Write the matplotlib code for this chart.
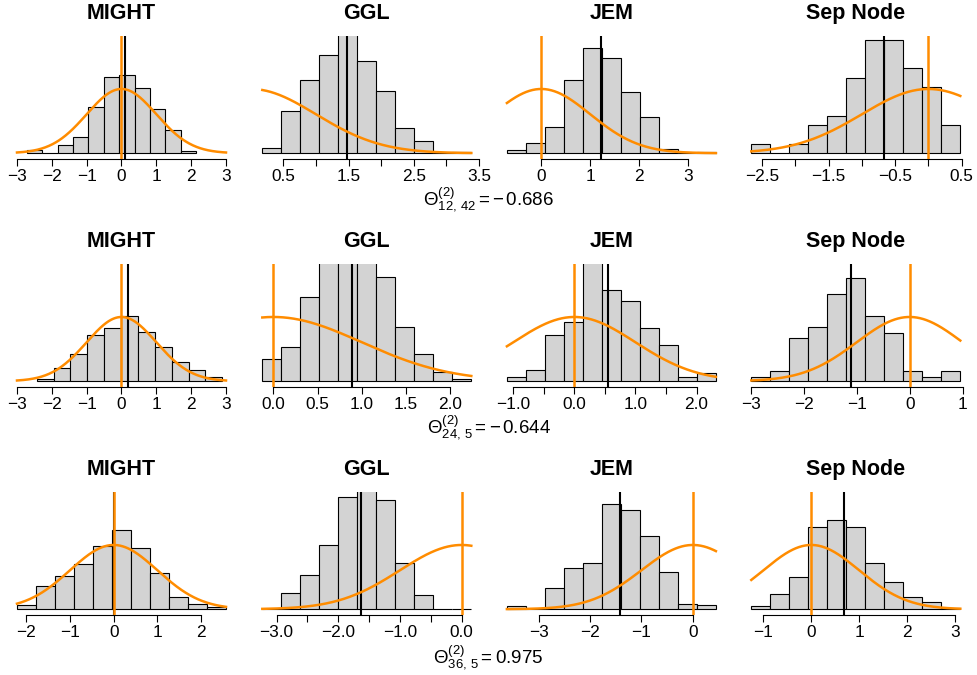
import numpy as np
import matplotlib
matplotlib.use("Agg")
import matplotlib.pyplot as plt

plt.rcParams['font.family'] = ['Liberation Sans', 'DejaVu Sans']
plt.rcParams['mathtext.fontset'] = 'custom'
plt.rcParams['mathtext.rm'] = 'Liberation Sans'
plt.rcParams['mathtext.it'] = 'Liberation Sans:italic'
plt.rcParams['mathtext.bf'] = 'Liberation Sans:bold'
plt.rcParams['axes.unicode_minus'] = True

methods = ["MIGHT", "GGL", "JEM", "Sep Node"]
theta_labels = [r"$\Theta^{(2)}_{12,\,42} = -\,0.686$",
                r"$\Theta^{(2)}_{24,\,5} = -\,0.644$",
                r"$\Theta^{(2)}_{36,\,5} = 0.975$"]

# ---- histogram bin edges (per row, per method) ----
edges_r1 = [[-2.713, -2.272, -1.831, -1.390, -0.949, -0.508, -0.067, 0.374, 0.815, 1.256, 1.697, 2.138],
            [0.179, 0.470, 0.761, 1.052, 1.343, 1.634, 1.925, 2.216, 2.507, 2.798, 3.089, 3.380],
            [-0.702, -0.314, 0.074, 0.462, 0.850, 1.238, 1.625, 2.013, 2.401, 2.789, 3.177, 3.565],
            [-2.663, -2.377, -2.092, -1.806, -1.520, -1.234, -0.949, -0.663, -0.377, -0.091, 0.194, 0.480]]
edges_r2 = [[-2.435, -1.951, -1.466, -0.982, -0.497, -0.013, 0.472, 0.956, 1.441, 1.925, 2.410, 2.895],
            [-0.125, 0.090, 0.305, 0.520, 0.735, 0.950, 1.165, 1.380, 1.595, 1.810, 2.025, 2.240],
            [-1.104, -0.793, -0.482, -0.171, 0.140, 0.451, 0.762, 1.073, 1.384, 1.695, 2.006, 2.317],
            [-2.992, -2.633, -2.274, -1.915, -1.556, -1.197, -0.838, -0.479, -0.120, 0.239, 0.598, 0.957]]
edges_r3 = [[-2.214, -1.779, -1.344, -0.908, -0.473, -0.038, 0.397, 0.832, 1.268, 1.703, 2.138, 2.573],
            [-3.232, -2.924, -2.616, -2.308, -2.000, -1.691, -1.383, -1.075, -0.767, -0.459, -0.151, 0.157],
            [-3.617, -3.247, -2.878, -2.508, -2.139, -1.769, -1.400, -1.030, -0.661, -0.291, 0.078, 0.448],
            [-1.254, -0.857, -0.460, -0.062, 0.335, 0.732, 1.129, 1.526, 1.924, 2.321, 2.718, 3.115]]

# ---- histogram densities ----
dens_r1 = [[0.017, 0.0, 0.050, 0.103, 0.286, 0.475, 0.487, 0.405, 0.277, 0.147, 0.015],
           [0.034, 0.263, 0.456, 0.607, 0.875, 0.571, 0.389, 0.158, 0.078, 0.0, 0.006],
           [0.017, 0.061, 0.163, 0.455, 0.654, 0.593, 0.380, 0.224, 0.025, 0.0, 0.008],
           [0.059, 0.0, 0.059, 0.176, 0.234, 0.468, 0.702, 0.702, 0.527, 0.412, 0.176]]
dens_r2 = [[0.012, 0.081, 0.167, 0.287, 0.333, 0.407, 0.308, 0.211, 0.122, 0.072, 0.029],
           [0.136, 0.213, 0.523, 0.800, 0.920, 0.835, 0.645, 0.337, 0.167, 0.060, 0.012],
           [0.029, 0.072, 0.285, 0.370, 0.757, 0.564, 0.498, 0.329, 0.225, 0.029, 0.052],
           [0.029, 0.066, 0.267, 0.335, 0.540, 0.639, 0.405, 0.302, 0.066, 0.029, 0.066]]
dens_r3 = [[0.024, 0.146, 0.204, 0.281, 0.395, 0.489, 0.378, 0.223, 0.073, 0.030, 0.015],
           [0.0, 0.101, 0.212, 0.399, 0.695, 0.780, 0.676, 0.287, 0.090, 0.003, 0.003],
           [0.017, 0.0, 0.133, 0.253, 0.289, 0.654, 0.618, 0.454, 0.234, 0.032, 0.025],
           [0.021, 0.095, 0.198, 0.513, 0.551, 0.513, 0.285, 0.171, 0.074, 0.046, 0.008]]

# ---- estimate means (black) and true values (orange) ----
means_r1 = [0.11, 1.47, 1.227, -0.663]
means_r2 = [0.187, 0.887, 0.546, -1.102]
means_r3 = [0.005, -1.638, -1.409, 0.676]
truth_r1 = [0.0, 0.0, 0.0, 0.0]
truth_r2 = [0.0, 0.0, 0.0, 0.0]
truth_r3 = [0.0, 0.0, 0.0, 0.0]

# ---- x-range of each panel (curve drawn over it) ----
range_r1 = [(-3.0, 3.0), (0.179, 3.380), (-0.702, 3.565), (-2.663, 0.480)]
range_r2 = [(-3.0, 3.0), (-0.125, 2.240), (-1.104, 2.317), (-2.992, 0.957)]
range_r3 = [(-2.214, 2.573), (-3.232, 0.157), (-3.617, 0.448), (-1.254, 3.115)]

# ---- axis ticks ----
ticks_r1 = [[-3, -2, -1, 0, 1, 2, 3], [0.5, 1.0, 1.5, 2.0, 2.5, 3.0, 3.5],
            [0, 1, 2, 3], [-2.5, -2.0, -1.5, -1.0, -0.5, 0.0, 0.5]]
ticks_r2 = [[-3, -2, -1, 0, 1, 2, 3], [0.0, 0.5, 1.0, 1.5, 2.0],
            [-1.0, -0.5, 0.0, 0.5, 1.0, 1.5, 2.0], [-3, -2, -1, 0, 1]]
ticks_r3 = [[-2, -1, 0, 1, 2], [-3.0, -2.5, -2.0, -1.5, -1.0, -0.5, 0.0],
            [-3, -2, -1, 0], [-1, 0, 1, 2, 3]]
decimals_r1 = [0, 1, 0, 1]
decimals_r2 = [0, 1, 1, 0]
decimals_r3 = [0, 1, 0, 0]
labelstep_r1 = [1, 2, 1, 2]
labelstep_r2 = [1, 1, 2, 1]
labelstep_r3 = [1, 2, 1, 1]

rows = [
    (edges_r1, dens_r1, means_r1, truth_r1, range_r1, ticks_r1, decimals_r1, labelstep_r1),
    (edges_r2, dens_r2, means_r2, truth_r2, range_r2, ticks_r2, decimals_r2, labelstep_r2),
    (edges_r3, dens_r3, means_r3, truth_r3, range_r3, ticks_r3, decimals_r3, labelstep_r3),
]

W, H = 977, 675
fig = plt.figure(figsize=(W / 100, H / 100), dpi=100)

col_centers = [121.5, 366.8, 611.4, 855.8]
data_w = 209.0
ax_w = data_w * 1.08
row_tops = [36, 264, 492]
ax_h = 123
label_base = [206, 434, 663]

ORANGE = "#FF8C00"
YLIM = (-0.036, 0.728)

for r, (edges, dens, means, truth, rng, ticks, decs, steps) in enumerate(rows):
    for c in range(4):
        left = (col_centers[c] - ax_w / 2) / W
        bottom = 1 - (row_tops[r] + ax_h) / H
        ax = fig.add_axes([left, bottom, ax_w / W, ax_h / H])
        e = np.array(edges[c])
        ax.bar(e[:-1], dens[c], width=np.diff(e), align='edge',
               color='#D3D3D3', edgecolor='black', linewidth=0.8, zorder=2)
        ax.axvline(means[c], color='black', lw=1.5, zorder=3)
        lo, hi = rng[c]
        xs = np.linspace(lo, hi, 400)
        ys = np.exp(-0.5 * (xs - truth[c]) ** 2) / np.sqrt(2 * np.pi)
        ax.plot(xs, ys, color=ORANGE, lw=1.8, zorder=4)
        ax.axvline(truth[c], color=ORANGE, lw=1.8, zorder=5)
        ext = 0.04 * (hi - lo)
        ax.set_xlim(lo - ext, hi + ext)
        ax.set_ylim(*YLIM)
        for s in ['top', 'left', 'right']:
            ax.spines[s].set_visible(False)
        t = ticks[c]
        ax.spines['bottom'].set_bounds(t[0], t[-1])
        ax.spines['bottom'].set_linewidth(0.8)
        ax.set_xticks(t)
        labs = []
        for i, v in enumerate(t):
            if i % steps[c] == 0:
                labs.append(f"{v:.{decs[c]}f}".replace('-', '\u2212'))
            else:
                labs.append("")
        ax.set_xticklabels(labs)
        ax.set_yticks([])
        ax.tick_params(axis='x', direction='out', length=5, width=0.8,
                       pad=2, labelsize=12.4)
        ax.set_title(methods[c], fontweight='bold', fontsize=15.5, pad=12.5)
    fig.text(0.5, 1 - label_base[r] / H, theta_labels[r], ha='center',
             va='baseline', fontsize=13.5)

fig.savefig("out.png", dpi=100)
